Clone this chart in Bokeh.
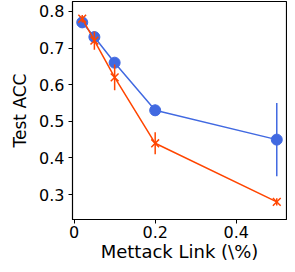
from bokeh.plotting import figure
from bokeh.embed import file_html
from bokeh.resources import INLINE
from bokeh.models import Range1d, FixedTicker

# data
x_vals = [0.02, 0.05, 0.1, 0.2, 0.5]
blue_acc = [0.77, 0.73, 0.66, 0.53, 0.45]
blue_err = [0.01, 0.01, 0.012, 0.015, 0.10]
orange_acc = [0.78, 0.72, 0.62, 0.44, 0.28]
orange_err = [0.01, 0.025, 0.035, 0.03, 0.01]
x_ticks = [0.0, 0.2, 0.4]
y_ticks = [0.3, 0.4, 0.5, 0.6, 0.7, 0.8]

BLUE = "#4169E1"
ORANGE = "#FF4500"

p = figure(width=287, height=264, output_backend="svg", toolbar_location=None,
           x_range=Range1d(-0.004, 0.524), y_range=Range1d(0.232, 0.827),
           min_border_left=72, min_border_right=1, min_border_top=1, min_border_bottom=40)
p.grid.visible = False
p.outline_line_color = "black"
p.outline_line_width = 1.2

for ax in (p.xaxis[0], p.yaxis[0]):
    ax.major_tick_out = 4
    ax.major_tick_in = 0
    ax.minor_tick_out = 0
    ax.minor_tick_in = 0
    ax.axis_line_color = "black"
    ax.major_tick_line_color = "black"
    ax.major_label_text_font = "DejaVu Sans"
    ax.major_label_text_font_size = "16px"
    ax.major_label_text_color = "black"
    ax.axis_label_text_font = "DejaVu Sans"
    ax.axis_label_text_font_style = "normal"
    ax.axis_label_text_color = "black"

p.xaxis[0].major_label_standoff = 2
p.yaxis[0].major_label_standoff = 4
p.xaxis[0].axis_label_text_font_size = "18px"
p.yaxis[0].axis_label_text_font_size = "17px"
p.xaxis[0].ticker = FixedTicker(ticks=x_ticks)
p.yaxis[0].ticker = FixedTicker(ticks=y_ticks)
p.xaxis[0].axis_label = "Mettack Link (\\%)"
p.yaxis[0].axis_label = "Test ACC"
p.xaxis[0].axis_label_standoff = 0
p.yaxis[0].axis_label_standoff = 6

b_lo = [a - e for a, e in zip(blue_acc, blue_err)]
b_hi = [a + e for a, e in zip(blue_acc, blue_err)]
o_lo = [a - e for a, e in zip(orange_acc, orange_err)]
o_hi = [a + e for a, e in zip(orange_acc, orange_err)]

p.line(x_vals, blue_acc, line_color=BLUE, line_width=1.5)
p.segment(x_vals, b_lo, x_vals, b_hi, line_color=BLUE, line_width=1.5)
p.scatter(x_vals, blue_acc, marker="circle", size=11, fill_color=BLUE, line_color=BLUE)

p.line(x_vals, orange_acc, line_color=ORANGE, line_width=1.5)
p.segment(x_vals, o_lo, x_vals, o_hi, line_color=ORANGE, line_width=1.5)
p.scatter(x_vals, orange_acc, marker="x", size=11, line_color=ORANGE, line_width=1.5)

open("out.html", "w").write(file_html(p, INLINE))
